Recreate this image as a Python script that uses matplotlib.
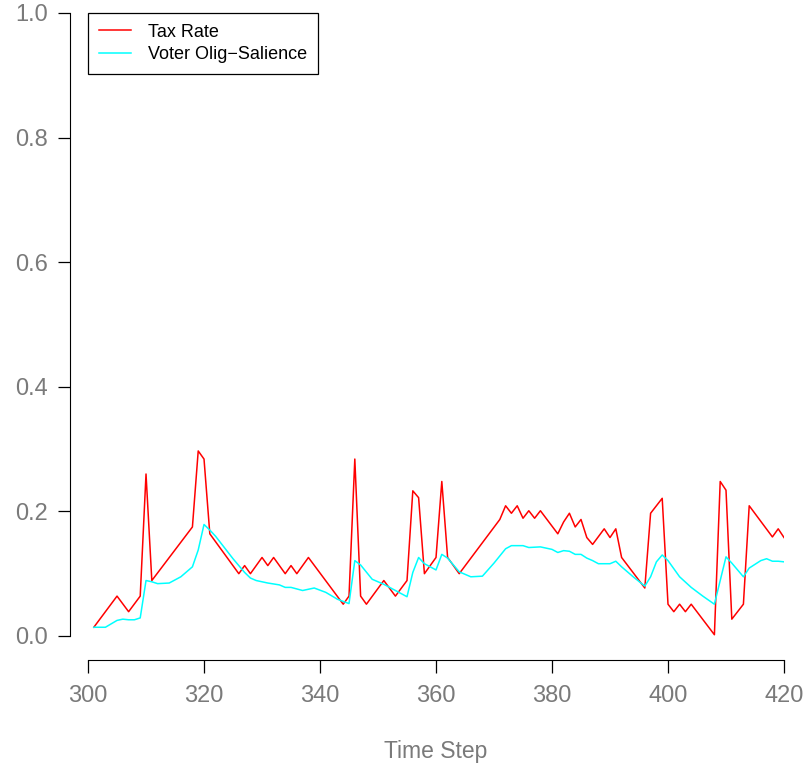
import matplotlib
matplotlib.use("Agg")
import matplotlib.pyplot as plt

plt.rcParams['font.family'] = ['Liberation Sans', 'DejaVu Sans']

# Tax rate (vertices)
tax_t = [301, 305, 307, 309, 310, 311, 318, 319, 320, 321, 326, 327, 328, 330,
         331, 332, 334, 335, 336, 338, 344, 345, 346, 347, 348, 351, 353, 355,
         356, 357, 358, 360, 361, 362, 364, 371, 372, 373, 374, 375, 376, 377,
         378, 381, 382, 383, 384, 385, 386, 387, 389, 390, 391, 392, 396, 397,
         399, 400, 401, 402, 403, 404, 408, 409, 410, 411, 413, 414, 418, 419, 420]
tax_v = [0.014, 0.064, 0.039, 0.064, 0.260, 0.089, 0.175, 0.297, 0.284, 0.164,
         0.100, 0.113, 0.100, 0.126, 0.113, 0.126, 0.100, 0.113, 0.100, 0.126,
         0.051, 0.064, 0.284, 0.064, 0.051, 0.089, 0.064, 0.089, 0.233, 0.222,
         0.100, 0.126, 0.248, 0.126, 0.100, 0.187, 0.209, 0.197, 0.209, 0.189,
         0.201, 0.189, 0.201, 0.164, 0.183, 0.197, 0.175, 0.187, 0.158, 0.147,
         0.172, 0.158, 0.172, 0.126, 0.077, 0.197, 0.221, 0.051, 0.039, 0.051,
         0.039, 0.051, 0.002, 0.248, 0.234, 0.027, 0.051, 0.209, 0.159, 0.172, 0.158]

# Voter oligarch salience
sal_t = [301, 303, 305, 306, 307, 308, 309, 310, 311, 312, 314, 316, 318, 319,
         320, 321, 322, 323, 324, 325, 326, 327, 328, 329, 330, 331, 333, 334,
         335, 337, 339, 341, 343, 345, 346, 347, 349, 351, 353, 355, 356, 357,
         358, 360, 361, 362, 364, 366, 368, 370, 372, 373, 375, 376, 378, 380,
         381, 382, 383, 384, 385, 386, 387, 388, 390, 391, 392, 394, 396, 397,
         398, 399, 400, 402, 404, 406, 408, 409, 410, 411, 413, 414, 416, 417,
         418, 419, 420]
sal_v = [0.014, 0.014, 0.025, 0.027, 0.026, 0.026, 0.029, 0.089, 0.087, 0.084,
         0.085, 0.095, 0.111, 0.138, 0.179, 0.170, 0.160, 0.148, 0.136, 0.124,
         0.113, 0.102, 0.093, 0.089, 0.087, 0.085, 0.082, 0.078, 0.078, 0.073,
         0.077, 0.070, 0.059, 0.052, 0.121, 0.114, 0.091, 0.083, 0.073, 0.063,
         0.102, 0.126, 0.116, 0.106, 0.131, 0.125, 0.103, 0.095, 0.096, 0.117,
         0.140, 0.145, 0.145, 0.142, 0.143, 0.139, 0.134, 0.137, 0.136, 0.131,
         0.131, 0.125, 0.121, 0.116, 0.116, 0.120, 0.111, 0.095, 0.080, 0.095,
         0.119, 0.130, 0.121, 0.095, 0.078, 0.064, 0.051, 0.089, 0.127, 0.117,
         0.095, 0.109, 0.121, 0.124, 0.120, 0.120, 0.119]

x_ticks = [300, 320, 340, 360, 380, 400, 420]
y_ticks = [0.0, 0.2, 0.4, 0.6, 0.8, 1.0]

fig = plt.figure(figsize=(8.09, 7.68), dpi=100)
ax = fig.add_axes([0.1088, 0.1719, 0.8603, 0.8112])

ax.plot(tax_t, tax_v, color='red', lw=1.1, label='Tax Rate')
ax.plot(sal_t, sal_v, color='cyan', lw=1.1, label='Voter Olig\u2212Salience')

ax.set_xlim(300, 420)
ax.set_ylim(0, 1)
ax.set_xticks(x_ticks)
ax.set_yticks(y_ticks)
ax.set_yticklabels([f'{v:.1f}' for v in y_ticks])

for s in ['top', 'right']:
    ax.spines[s].set_visible(False)
ax.spines['left'].set_position(('outward', 13))
ax.spines['bottom'].set_position(('outward', 17))
ax.spines['left'].set_bounds(0, 1)
ax.spines['bottom'].set_bounds(300, 420)
ax.tick_params(axis='both', length=9, width=0.9, colors='black',
               labelcolor='#7a7a7a', labelsize=17, pad=7)
ax.tick_params(axis='x', pad=9)

ax.set_xlabel('Time Step', color='#7a7a7a', fontsize=16.5, labelpad=24)

leg = ax.legend(loc='upper left', bbox_to_anchor=(0.0, 1.0), borderaxespad=0,
                fancybox=False, framealpha=1, edgecolor='black', fontsize=13,
                handlelength=1.8, handletextpad=0.9, borderpad=0.6,
                labelspacing=0.3)
leg.get_frame().set_linewidth(0.9)

fig.savefig('out.png', dpi=100)
